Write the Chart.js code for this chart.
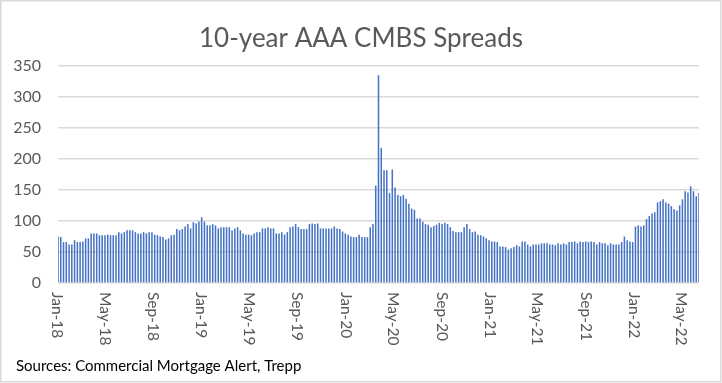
<!DOCTYPE html>
<html>
<head>
<meta charset="utf-8">
<script src="https://cdn.jsdelivr.net/npm/chart.js@4.4.0/dist/chart.umd.min.js"></script>
<style>
  html, body { margin: 0; padding: 0; background: #fff; }
  #wrap { width: 722px; height: 383px; position: relative; }
</style>
</head>
<body>
<div id="wrap"><canvas id="myChart" width="722" height="383"></canvas></div>
<script>
const title = "10-year AAA CMBS Spreads";
const source_note = "Sources: Commercial Mortgage Alert, Trepp";

// weekly observations, first week 2018-01-05
const first_week = "2018-01-05";
const spreads = [
  75, 74, 66, 66, 62, 62, 69, 66, 66, 67, 72, 72, 80, 80, 80, 77, 77, 77, 78, 77, 77, 77, 82, 80, 82, 85, 85, 85,
  82, 80, 80, 82, 80, 82, 82, 78, 77, 75, 74, 70, 72, 77, 78, 87, 85, 87, 91, 95, 88, 98, 96, 99, 106, 99, 93, 93, 95,
  93, 88, 90, 90, 90, 90, 85, 88, 90, 85, 80, 78, 78, 77, 80, 82, 82, 88, 88, 90, 88, 88, 80, 80, 82, 78, 82, 90, 91,
  95, 90, 87, 87, 87, 95, 96, 95, 96, 88, 88, 88, 88, 88, 91, 88, 87, 83, 80, 78, 75, 74, 74, 78, 74, 74, 74, 90, 95,
  157, 335, 218, 182, 182, 145, 183, 154, 142, 140, 142, 136, 128, 120, 118, 104, 104, 99, 95, 94, 90, 92, 94, 97, 95, 97, 95, 90, 84,
  82, 82, 82, 90, 95, 87, 82, 83, 78, 77, 75, 72, 69, 67, 67, 66, 59, 59, 58, 54, 56, 58, 61, 59, 67, 67, 62, 59, 62,
  62, 62, 64, 64, 64, 62, 62, 61, 64, 62, 64, 62, 66, 66, 67, 64, 67, 66, 67, 66, 67, 66, 62, 66, 64, 64, 61, 64, 62,
  62, 62, 66, 75, 69, 67, 66, 91, 93, 91, 93, 103, 108, 112, 114, 130, 132, 135, 130, 128, 124, 119, 117, 125, 135, 148, 146, 156, 148, 140, 145
];

const x_tick_labels = ["Jan-18", "May-18", "Sep-18", "Jan-19", "May-19", "Sep-19", "Jan-20",
  "May-20", "Sep-20", "Jan-21", "May-21", "Sep-21", "Jan-22", "May-22"];
const y_ticks = [0, 50, 100, 150, 200, 250, 300, 350];

const months = {Jan: 0, Feb: 1, Mar: 2, Apr: 3, May: 4, Jun: 5, Jul: 6, Aug: 7, Sep: 8, Oct: 9, Nov: 10, Dec: 11};
const DAY = 86400000;
const start = Date.parse(first_week + "T00:00:00Z");

// week labels for the category axis
let week_labels = [];
for (let i = 0; i < spreads.length; i++) {
  const d = new Date(start + i * 7 * DAY);
  week_labels.push(d.toISOString().slice(0, 10));
}

const grey_text = "#595959";

// month labels, rotated to read top to bottom, plus title/source/border
const decorations = {
  id: "decorations",
  afterDraw(chart) {
    const ctx = chart.ctx;
    const xs = chart.scales.x;
    const area = chart.chartArea;
    const p0 = xs.getPixelForValue(0);
    const pn = xs.getPixelForValue(spreads.length - 1);
    const step = (pn - p0) / (spreads.length - 1);
    ctx.save();
    ctx.fillStyle = grey_text;
    ctx.font = "15.5px Lato";
    ctx.textAlign = "left";
    ctx.textBaseline = "middle";
    for (let lbl of x_tick_labels) {
      const [m, y] = lbl.split("-");
      const t = Date.UTC(2000 + parseInt(y), months[m], 1);
      const idx = (t - start) / (7 * DAY);
      const x = p0 + idx * step;
      ctx.save();
      ctx.translate(x + 1, area.bottom + 9);
      ctx.rotate(Math.PI / 2);
      ctx.fillText(lbl, 0, 0);
      ctx.restore();
    }
    ctx.textAlign = "center";
    ctx.textBaseline = "alphabetic";
    ctx.font = "26px Lato";
    ctx.fillText(title, 361, 47);
    ctx.fillStyle = "#000";
    ctx.textAlign = "left";
    ctx.font = "15px Lato";
    ctx.fillText(source_note, 16, 371);
    ctx.strokeStyle = "#d9d9d9";
    ctx.lineWidth = 1.5;
    ctx.strokeRect(0.75, 0.75, 720, 381);
    ctx.restore();
  },
};

const ctx = document.getElementById("myChart");
const chart = new Chart(ctx, {
  type: "bar",
  data: {
    labels: week_labels,
    datasets: [
      {
        label: "Spread",
        data: spreads,
        backgroundColor: "#4472C4",
        borderWidth: 0,
        barPercentage: 0.55,
        categoryPercentage: 1.0,
      },
    ],
  },
  options: {
    responsive: false,
    animation: false,
    layout: { padding: { left: 0, right: 23, top: 66, bottom: 100 } },
    plugins: {
      legend: { display: false },
      tooltip: { enabled: false },
    },
    scales: {
      x: {
        offset: false,
        grid: { display: false, drawTicks: false },
        border: { display: false },
        ticks: { display: false },
      },
      y: {
        min: 0,
        max: 350,
        afterFit: (s) => { s.width = 58; },
        afterBuildTicks: (s) => { s.ticks = y_ticks.map((v) => ({ value: v })); },
        grid: { color: "#d9d9d9", lineWidth: 1.5, drawTicks: false },
        border: { display: false },
        ticks: { color: grey_text, font: { family: "Lato", size: 16 }, padding: 17 },
      },
    },
  },
  plugins: [decorations],
});
</script>
</body>
</html>
